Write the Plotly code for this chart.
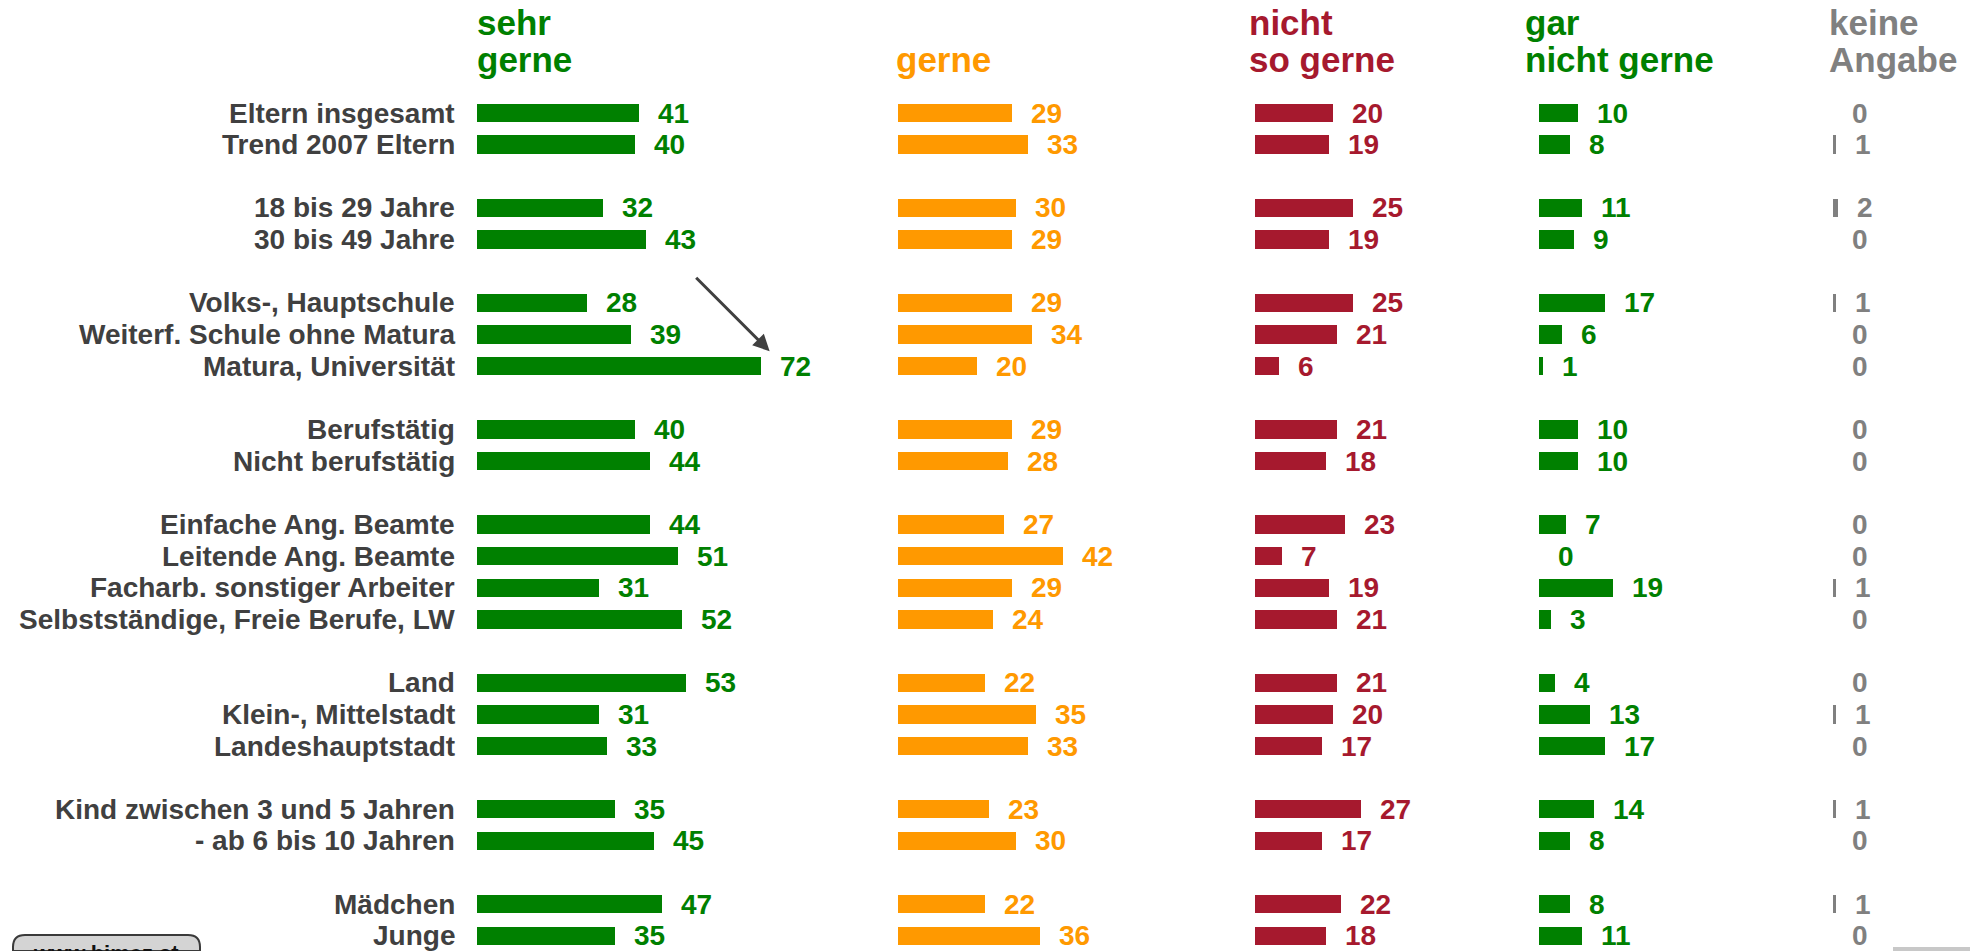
"""
Kinderbetreuung survey chart: five horizontal bar columns per answer category.
"""

import plotly.graph_objects as go

# Row labels (groups are separated by one empty row)
labels = [
    "Eltern insgesamt", "Trend 2007 Eltern",
    "18 bis 29 Jahre", "30 bis 49 Jahre",
    "Volks-, Hauptschule", "Weiterf. Schule ohne Matura", "Matura, Universität",
    "Berufstätig", "Nicht berufstätig",
    "Einfache Ang. Beamte", "Leitende Ang. Beamte", "Facharb. sonstiger Arbeiter",
    "Selbstständige, Freie Berufe, LW",
    "Land", "Klein-, Mittelstadt", "Landeshauptstadt",
    "Kind zwischen 3 und 5 Jahren", "- ab 6 bis 10 Jahren",
    "Mädchen", "Junge",
]
group_sizes = [2, 2, 3, 2, 4, 3, 2, 2]

sehr_gerne = [41, 40, 32, 43, 28, 39, 72, 40, 44, 44, 51, 31, 52, 53, 31, 33, 35, 45, 47, 35]
gerne = [29, 33, 30, 29, 29, 34, 20, 29, 28, 27, 42, 29, 24, 22, 35, 33, 23, 30, 22, 36]
nicht_so_gerne = [20, 19, 25, 19, 25, 21, 6, 21, 18, 23, 7, 19, 21, 21, 20, 17, 27, 17, 22, 18]
gar_nicht_gerne = [10, 8, 11, 9, 17, 6, 1, 10, 10, 7, 0, 19, 3, 4, 13, 17, 14, 8, 8, 11]
keine_angabe = [0, 1, 2, 0, 1, 0, 0, 0, 0, 0, 0, 1, 0, 0, 1, 0, 1, 0, 1, 0]

headers = [("sehr", "gerne"), ("", "gerne"), ("nicht", "so gerne"),
           ("gar", "nicht gerne"), ("keine", "Angabe")]

W, H = 1970, 951
GREEN = "#008000"
ORANGE = "#FF9900"
RED = "#A6192E"
GRAY = "#808080"
LABEL = "#404040"
FONT = "Liberation Sans, Arial, sans-serif"
HEAD_SIZE = 35

# slot index of each row (one blank slot between groups)
slots = []
pos = 0
for size in group_sizes:
    for i in range(size):
        slots.append(pos)
        pos += 1
    pos += 1

# column layout: (values, colour, left edge px, width px, px per unit, header x px)
columns = [
    (sehr_gerne, GREEN, 477, 400, 3.94, 475),
    (gerne, ORANGE, 898, 280, 3.94, 894),
    (nicht_so_gerne, RED, 1255, 280, 3.92, 1247),
    (gar_nicht_gerne, GREEN, 1539, 260, 3.9, 1523),
    (keine_angabe, GRAY, 1833, 100, 2.6, 1827),
]

row_top, row_step = 113, 31.65


def py(px):
    return 1 - px / H


fig = go.Figure()
annotations = []
layout_axes = {}

for i, (vals, color, left, width, scale, hx) in enumerate(columns):
    ax = "x" if i == 0 else f"x{i + 1}"
    fig.add_trace(go.Bar(
        x=vals,
        y=slots,
        orientation="h",
        width=0.58,
        marker=dict(color=color, line=dict(width=0)),
        xaxis=ax,
        yaxis="y",
        hoverinfo="x",
    ))
    key = "xaxis" if i == 0 else f"xaxis{i + 1}"
    layout_axes[key] = dict(
        domain=[left / W, (left + width) / W],
        range=[0, width / scale],
        visible=False,
        anchor="y",
        fixedrange=True,
    )
    # value labels next to the bars
    for v, s in zip(vals, slots):
        annotations.append(dict(
            x=v, y=s, xref=ax, yref="y",
            text=str(v), showarrow=False,
            xanchor="left", yanchor="middle", xshift=17,
            font=dict(family=FONT, size=28, color=color, weight="bold"),
        ))
    # two-line column header
    for line, base in zip(headers[i], (35, 72)):
        if not line:
            continue
        annotations.append(dict(
            x=hx / W, y=py(base - 0.3465 * HEAD_SIZE), xref="paper", yref="paper",
            text=line, showarrow=False,
            xanchor="left", yanchor="middle",
            font=dict(family=FONT, size=HEAD_SIZE, color=color, weight="bold"),
        ))

# row labels, right aligned left of the first column
for lab, s in zip(labels, slots):
    annotations.append(dict(
        x=457 / W, y=s, xref="paper", yref="y",
        text=lab, showarrow=False,
        xanchor="right", yanchor="middle",
        font=dict(family=FONT, size=28, color=LABEL, weight="bold"),
    ))

# arrow pointing at the Matura value
annotations.append(dict(
    x=sehr_gerne[6], y=slots[6], xref="x", yref="y",
    xshift=9, yshift=15,
    ax=-75, ay=-75, text="", showarrow=True,
    arrowhead=2, arrowsize=1.1, arrowwidth=3, arrowcolor="#404040",
))

# website button at bottom left (cut off by the image edge)
button = (f"M {13 / W},{py(951)} L {13 / W},{py(947)} "
          f"Q {13 / W},{py(935)} {25 / W},{py(935)} L {188 / W},{py(935)} "
          f"Q {200 / W},{py(935)} {200 / W},{py(947)} L {200 / W},{py(951)} Z")
shapes = [
    dict(type="path", path=button, xref="paper", yref="paper",
         fillcolor="#d4d4d4", line=dict(color="#3a3a3a", width=2)),
    dict(type="rect", xref="paper", yref="paper",
         x0=1893 / W, x1=1, y0=0, y1=py(947),
         fillcolor="#c8c8c8", line=dict(width=0)),
]
annotations.append(dict(
    x=106 / W, y=py(953), xref="paper", yref="paper",
    text="www.bimez.at", showarrow=False, xanchor="center", yanchor="middle",
    font=dict(family=FONT, size=22, color="#111111", weight="bold"),
))

y0 = -row_top / row_step
y1 = (H - row_top) / row_step

fig.update_layout(
    width=W,
    height=H,
    margin=dict(l=0, r=0, t=0, b=0),
    paper_bgcolor="white",
    plot_bgcolor="white",
    showlegend=False,
    bargap=0,
    yaxis=dict(
        domain=[0, 1],
        range=[y1, y0],
        anchor="x",
        visible=False,
        fixedrange=True,
    ),
    annotations=annotations,
    shapes=shapes,
    **layout_axes,
)

fig.write_html("out.html", config={"displayModeBar": False},
               post_script="document.body.style.margin='0';")
